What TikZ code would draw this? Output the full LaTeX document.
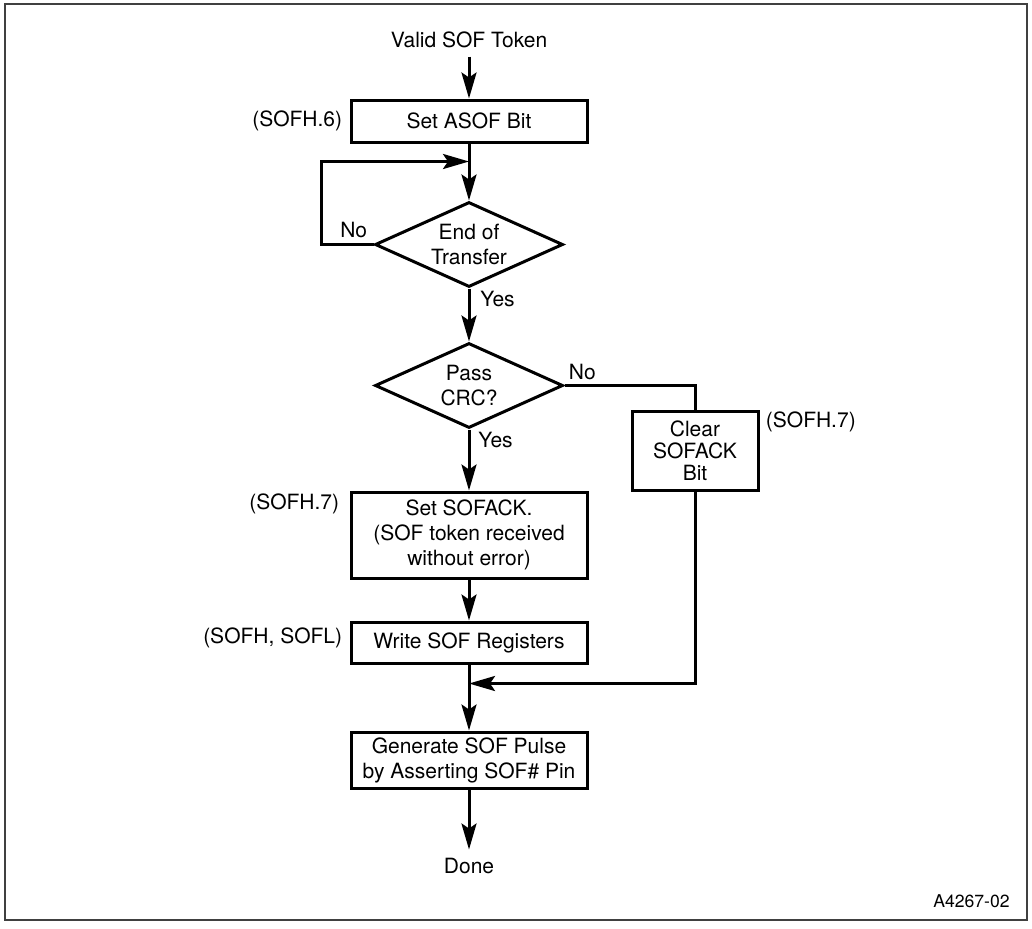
\documentclass[tikz,border=0pt]{standalone}
\usepackage{fontspec}
\setmainfont{TeX Gyre Heros}
\usetikzlibrary{arrows.meta,positioning,shapes.geometric}
\tikzset{
  pbox/.style ={draw, line width=1.5pt, align=center, inner sep=2pt, minimum width=118pt},
  dec/.style  ={draw, diamond, line width=1.5pt, align=center, inner sep=0pt, aspect=2.2,
                minimum width=94pt, minimum height=42.5pt},
  term/.style ={inner sep=4pt},
  reg/.style  ={inner sep=0pt},
  frm/.style  ={draw=black!75, line width=1pt},
  ar/.style   ={-{Stealth[length=13pt,width=7.5pt,inset=2.5pt]}, line width=1.5pt},
  ln/.style   ={line width=1.5pt},
}
\begin{document}
\begin{tikzpicture}[font=\fontsize{10.5}{12.5}\selectfont]
\useasboundingbox (0,0) rectangle (516pt,-464pt);
\draw[frm] (2.5pt,-2pt) rectangle (513.5pt,-460pt);
\node[pbox, minimum height=21pt] (asof) at (234.5pt,-60.5pt) {Set ASOF Bit};
\node[term, above=21pt of asof] (start) {Valid SOF Token};
\node[dec, below=28.5pt of asof] (eot) {End of\\Transfer};
\node[dec, below=26.5pt of eot] (crc) {Pass\\CRC?};
\node[pbox, minimum height=43pt, below=30.5pt of crc] (ack) {Set SOFACK.\\(SOF token received\\without error)};
\node[pbox, minimum height=20.5pt, below=20.5pt of ack] (wr) {Write SOF Registers};
\node[pbox, minimum height=28pt, below=33pt of wr] (gen) {Generate SOF Pulse\\by Asserting SOF\# Pin};
\node[term, below=30pt of gen] (done) {Done};
\node[pbox, minimum width=63pt, minimum height=39.5pt, font=\fontsize{10.5}{11}\selectfont,
      below right=12pt and 33pt of crc.east] (clr) {Clear\\SOFACK\\Bit};
\node[reg, left=3.5pt of asof] (r6) {(SOFH.6)};
\node[reg, below left=1.5pt and 5pt of ack.north west] (r7a) {(SOFH.7)};
\node[reg, left=3.5pt of wr, yshift=2.5pt] (rhl) {(SOFH, SOFL)};
\node[reg, below right=1pt and 3pt of clr.north east] (r7b) {(SOFH.7)};
\node[reg, above left=3pt and 3pt of eot.west] (eotno) {No};
\node[reg, below right=1pt and 5.5pt of eot.south] (eotyes) {Yes};
\node[reg, above right=2.5pt and 2pt of crc.east] (crcno) {No};
\node[reg, below right=1pt and 4.5pt of crc.south] (crcyes) {Yes};
\node[reg, font=\fontsize{8.8}{10}\selectfont, anchor=east] (fig) at (505pt,-450.5pt) {A4267-02};
\coordinate[below=9pt of asof.south] (lp);
\coordinate[below=9.5pt of wr.south] (mrg);
\draw[ar] (start) -- (asof);
\draw[ar] (asof) -- (eot);
\draw[ar] (eot.west) -- ++(-26pt,0) |- (lp);
\draw[ar] (eot) -- (crc);
\draw[ar] (crc) -- (ack);
\draw[ln] (crc.east) -| (clr.north);
\draw[ar] (clr.south) |- (mrg);
\draw[ar] (ack) -- (wr);
\draw[ar] (wr) -- (gen);
\draw[ar] (gen) -- (done);
\end{tikzpicture}
\end{document}
